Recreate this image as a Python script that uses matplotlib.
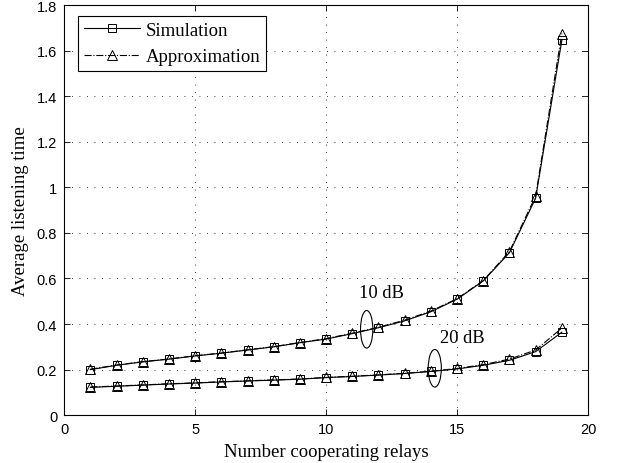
import numpy as np
import matplotlib
matplotlib.use("Agg")
import matplotlib.pyplot as plt
from matplotlib.patches import Ellipse

# ---------------- Daten ----------------
relays = np.arange(1, 20)

sim_10db = [0.200, 0.219, 0.234, 0.246, 0.260, 0.272, 0.286, 0.300, 0.318, 0.334,
            0.358, 0.384, 0.414, 0.454, 0.509, 0.589, 0.713, 0.952, 1.645]
approx_10db = [0.202, 0.220, 0.235, 0.247, 0.261, 0.273, 0.287, 0.301, 0.319, 0.336,
               0.360, 0.386, 0.417, 0.457, 0.511, 0.591, 0.718, 0.962, 1.675]
sim_20db = [0.122, 0.127, 0.132, 0.137, 0.141, 0.146, 0.150, 0.154, 0.158, 0.165,
            0.170, 0.176, 0.183, 0.192, 0.203, 0.219, 0.241, 0.279, 0.364]
approx_20db = [0.124, 0.128, 0.133, 0.138, 0.142, 0.147, 0.151, 0.155, 0.159, 0.166,
               0.171, 0.177, 0.184, 0.193, 0.205, 0.222, 0.246, 0.286, 0.382]

serif = "Liberation Serif"
sans = "Liberation Sans"

# ---------------- Plot ----------------
fig = plt.figure(figsize=(6.17, 4.64), dpi=100)
ax = fig.add_axes([0.104, 0.103, 0.849, 0.884])

for sim, appr in [(sim_10db, approx_10db), (sim_20db, approx_20db)]:
    ax.plot(relays, sim, color="black", lw=0.8, marker="s", ms=6,
            mfc="none", mec="black", mew=0.7, label="Simulation")
    ax.plot(relays, appr, color="black", lw=0.8, ls="-.", marker="^", ms=7.5,
            mfc="none", mec="black", mew=0.7, label="Approximation")

# Ellipsen und Beschriftungen
ax.add_patch(Ellipse((11.55, 0.377), 0.47, 0.165, fill=False, ec="black", lw=0.8))
ax.add_patch(Ellipse((14.15, 0.206), 0.5, 0.165, fill=False, ec="black", lw=0.8))
ax.text(12.1, 0.54, "10 dB", family=serif, fontsize=13.3, ha="center", va="center")
ax.text(15.2, 0.34, "20 dB", family=serif, fontsize=13.3, ha="center", va="center")

ax.set_xlim(0, 20)
ax.set_ylim(0, 1.8)
ax.set_xticks([0, 5, 10, 15, 20])
ax.set_yticks(np.arange(0, 1.81, 0.2))
ax.set_yticklabels(["0", "0.2", "0.4", "0.6", "0.8", "1", "1.2", "1.4", "1.6", "1.8"])
for lab in ax.get_xticklabels() + ax.get_yticklabels():
    lab.set_family(sans)
    lab.set_fontsize(10.5)

ax.tick_params(direction="in", top=True, right=True, length=4, width=0.6, pad=5)
ax.grid(True, ls=(0, (1, 8)), color="black", lw=0.6)
for s in ax.spines.values():
    s.set_linewidth(0.8)

ax.set_xlabel("Number cooperating relays", family=serif, fontsize=13.5, labelpad=5)
ax.set_ylabel("Average listening time", family=serif, fontsize=13.5, labelpad=6)

handles, labels = ax.get_legend_handles_labels()
leg = ax.legend(handles[:2], labels[:2], loc="upper left", bbox_to_anchor=(0.027, 0.973),
                prop={"family": serif, "size": 13.5}, fancybox=False, framealpha=1,
                edgecolor="black", handlelength=3.0, borderpad=0.3,
                labelspacing=0.5, handletextpad=0.3, borderaxespad=0)
leg.get_frame().set_linewidth(0.8)

fig.savefig("out.png", dpi=100)
